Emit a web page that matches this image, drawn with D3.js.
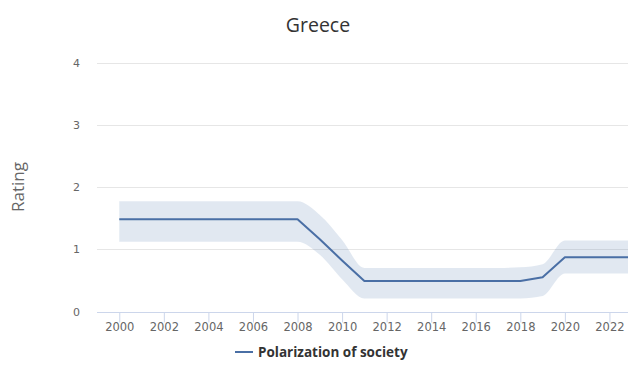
<!DOCTYPE html>
<html>
<head>
<meta charset="utf-8">
<script src="https://cdn.jsdelivr.net/npm/d3@7"></script>
<style>
  html, body { margin: 0; padding: 0; background: #fff; }
  svg { display: block; font-family: "Open Sans", "DejaVu Sans", sans-serif; }
</style>
</head>
<body>
<svg id="chart" width="628" height="370"></svg>
<script>
const title = "Greece";
const yAxisTitle = "Rating";
const seriesName = "Polarization of society";
const years = [2000,2001,2002,2003,2004,2005,2006,2007,2008,2009,2010,2011,2012,2013,2014,2015,2016,2017,2018,2019,2020,2021,2022,2023];
const values = [1.48,1.48,1.48,1.48,1.48,1.48,1.48,1.48,1.48,1.16,0.82,0.49,0.49,0.49,0.49,0.49,0.49,0.49,0.49,0.55,0.87,0.87,0.87,0.87];
const lower  = [1.12,1.12,1.12,1.12,1.12,1.12,1.12,1.12,1.12,0.91,0.52,0.21,0.21,0.21,0.21,0.21,0.21,0.21,0.21,0.25,0.61,0.61,0.61,0.61];
const upper  = [1.77,1.77,1.77,1.77,1.77,1.77,1.77,1.77,1.77,1.55,1.15,0.70,0.70,0.70,0.70,0.70,0.70,0.70,0.71,0.76,1.14,1.14,1.14,1.14];
const xTicks = [2000,2002,2004,2006,2008,2010,2012,2014,2016,2018,2020,2022];
const yTicks = [0,1,2,3,4];

(function () {
const svg = d3.select("#chart");
const pLeft = 97, pRight = 654, pTop = 62.5, pBottom = 311.5;
const x = d3.scaleLinear().domain([1999, 2024]).range([pLeft, pRight]);
const y = d3.scaleLinear().domain([0, 4]).range([pBottom, pTop]);
const tickFont = "\"DejaVu Sans\", sans-serif";

const data = years.map((yr, i) => ({ yr, v: values[i], lo: lower[i], hi: upper[i] }));

// gridlines
svg.append("g").selectAll("line").data(yTicks.filter(d => d > 0)).join("line")
  .attr("x1", pLeft).attr("x2", 640)
  .attr("y1", d => Math.round(y(d)) + 0.5).attr("y2", d => Math.round(y(d)) + 0.5)
  .attr("stroke", "#e6e6e6").attr("stroke-width", 1);

// y labels
svg.append("g").selectAll("text").data(yTicks).join("text")
  .attr("x", 80).attr("y", d => y(d) + 4)
  .attr("text-anchor", "end").attr("font-size", 11).attr("fill", "#666")
  .attr("font-family", tickFont)
  .text(d => d);

// y axis title
svg.append("text")
  .attr("transform", `translate(24,187) rotate(-90)`)
  .attr("text-anchor", "middle").attr("font-size", 17).attr("fill", "#666")
  .text(yAxisTitle);

// x axis
const xAxis = d3.axisBottom(x).tickValues(xTicks).tickFormat(d3.format("d")).tickSize(10).tickSizeOuter(0);
const gx = svg.append("g").attr("transform", `translate(0,${Math.round(pBottom) + 0.5})`).call(xAxis);
gx.select(".domain").attr("stroke", "#ccd6eb").attr("d", `M${pLeft},0H640`);
gx.selectAll(".tick line").attr("stroke", "#ccd6eb");
gx.selectAll(".tick text").attr("font-size", 11.5).attr("fill", "#666").attr("dy", "0.45em")
  .attr("font-family", tickFont);

// band
const area = d3.area().curve(d3.curveMonotoneX)
  .x(d => x(d.yr)).y0(d => y(d.lo)).y1(d => y(d.hi));
svg.append("path").datum(data).attr("d", area)
  .attr("fill", "#4572a7").attr("fill-opacity", 0.16);

// line
const line = d3.line().x(d => x(d.yr)).y(d => y(d.v));
svg.append("path").datum(data).attr("d", line)
  .attr("fill", "none").attr("stroke", "#4a6fa5").attr("stroke-width", 2)
  .attr("stroke-linejoin", "round");

// title
svg.append("text").attr("x", 318).attr("y", 32)
  .attr("text-anchor", "middle").attr("font-size", 19.5).attr("fill", "#333")
  .text(title);

// legend
svg.append("line").attr("x1", 235).attr("x2", 253).attr("y1", 352).attr("y2", 352)
  .attr("stroke", "#4a6fa5").attr("stroke-width", 2);
svg.append("text").attr("x", 258).attr("y", 357)
  .attr("font-size", 13.5).attr("font-weight", "bold").attr("fill", "#333")
  .text(seriesName);
})();
</script>
</body>
</html>
